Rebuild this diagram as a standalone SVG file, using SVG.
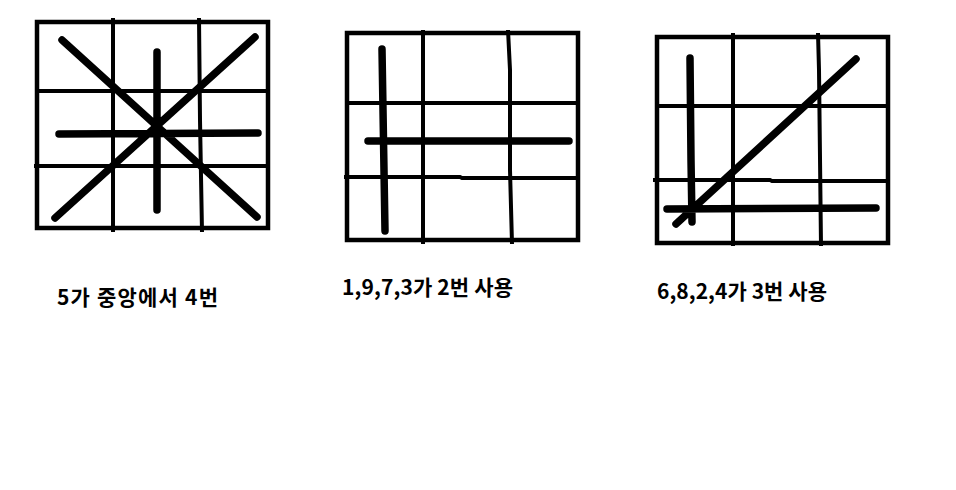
<svg xmlns="http://www.w3.org/2000/svg" width="956" height="490" viewBox="0 0 956 490">
<style>
.frame{fill:none;stroke:#000;stroke-width:4.5}
.grid{fill:none;stroke:#000;stroke-width:4}
.thick{fill:none;stroke:#000;stroke-width:7.5;stroke-linecap:round}
.label{font-family:"Noto Sans CJK KR","Noto Sans",sans-serif;font-weight:700;font-size:21px;fill:#000}
</style>
<rect width="956" height="490" fill="#fff"/>
<g id="panel1">
<rect class="frame" x="37" y="22" width="231" height="206"/>
<path class="grid" d="M113,18 L113,232 M199,18 L200,120 L202,232 M37,91 L268,91 M34,166 L268,166"/>
<path class="thick" d="M62,40 L257,217 M255,37 L55,218 M157,52 L157,210 M59,134 L258,133"/>
<text class="label" x="57" y="305" textLength="161" lengthAdjust="spacing">5가 중앙에서 4번</text>
</g>
<g id="panel2">
<rect class="frame" x="347" y="33" width="231" height="207"/>
<path class="grid" d="M423,30 L423,244 M508,30 L510,70 L510,170 L512,244 M347,103 L578,103 M344,177 L460,177 L462,178 L578,178"/>
<path class="thick" d="M382,49 L383,110 L385,231 M368,141 L569,141"/>
<text class="label" x="342" y="295" textLength="171" lengthAdjust="spacing">1,9,7,3가 2번 사용</text>
</g>
<g id="panel3">
<rect class="frame" x="657" y="37" width="231" height="206"/>
<path class="grid" d="M733,33 L733,246 M818,33 L819,70 L821,246 M657,106 L888,106 M653,180 L770,180 L772,181 L888,181"/>
<path class="thick" d="M690,58 L691,160 L692,222 M856,59 L676,224 M667,209 L876,208"/>
<text class="label" x="657" y="299" textLength="170" lengthAdjust="spacing">6,8,2,4가 3번 사용</text>
</g>
</svg>
